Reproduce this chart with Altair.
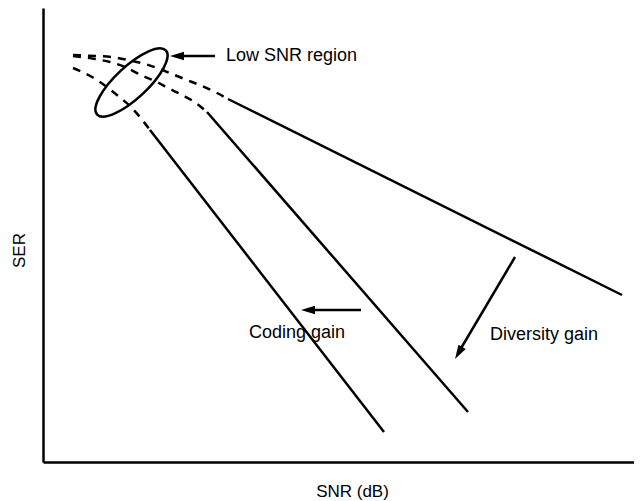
import altair as alt
import pandas as pd

FONT = "Liberation Sans"

# ---- curve values (SNR units on x, SER units on y) ----
# Curve A: no diversity (shallow slope)
a_dash_x = [30, 52, 68, 85, 102, 117, 129, 144, 159, 174, 185]
a_dash_y = [407, 406, 405, 402, 398, 393, 388, 382, 376, 369, 363]
a_solid_x = [185, 579]
a_solid_y = [363, 167]

# Curve B: diversity gain
b_dash_x = [30, 52, 67, 82, 98, 114, 125, 139, 153, 164]
b_dash_y = [406, 403, 400, 395, 387, 380, 374, 367, 359, 350]
b_solid_x = [164, 425]
b_solid_y = [350, 50]

# Curve C: diversity + coding gain
c_dash_x = [30, 54, 74, 89, 107]
c_dash_y = [394, 382, 367, 354, 332]
c_solid_x = [107, 341]
c_solid_y = [332, 30]

# Low SNR ellipse centre
ellipse_x = [88.5]
ellipse_y = [379.5]

# Arrows: shaft start, shaft end, tip, head angle
arrow_names = ["low", "coding", "diversity"]
arrow_x1 = [172, 318, 472]
arrow_y1 = [406, 152, 205]
arrow_x2 = [135, 265, 417]
arrow_y2 = [406, 152, 112]
tip_x = [127, 258, 412]
tip_y = [406, 152, 103]
tip_angle = [270, 270, 210.5]

# Annotation labels
label_text = ["Low SNR region", "Coding gain", "Diversity gain"]
label_x = [183, 206, 447]
label_y = [406, 129, 127]
label_size = [18, 18, 18]


def series(name, xs, ys):
    return pd.DataFrame({"x": xs, "y": ys, "curve": name, "order": range(len(xs))})


dash_df = pd.concat([series("A", a_dash_x, a_dash_y),
                     series("B", b_dash_x, b_dash_y),
                     series("C", c_dash_x, c_dash_y)])
solid_df = pd.concat([series("A", a_solid_x, a_solid_y),
                      series("B", b_solid_x, b_solid_y),
                      series("C", c_solid_x, c_solid_y)])
ellipse_df = pd.DataFrame({"x": ellipse_x, "y": ellipse_y})
shaft_df = pd.DataFrame({"name": arrow_names, "x": arrow_x1, "y": arrow_y1,
                         "x2": arrow_x2, "y2": arrow_y2})
tip_df = pd.DataFrame({"name": arrow_names, "x": tip_x, "y": tip_y, "angle": tip_angle})
label_df = pd.DataFrame({"text": label_text, "x": label_x, "y": label_y, "size": label_size})

xscale = alt.Scale(domain=[0, 591], nice=False, zero=False)
yscale = alt.Scale(domain=[0, 454], nice=False, zero=False)

X = alt.X("x:Q", scale=xscale,
          axis=alt.Axis(title="SNR (dB)", titleX=309, titleY=29,
                        titleBaseline="middle", titleAlign="center"))
Y = alt.Y("y:Q", scale=yscale,
          axis=alt.Axis(title="SER", titleX=-24, titleY=242, titleAngle=270,
                        titleBaseline="middle", titleAlign="center"))

dashed = alt.Chart(dash_df).mark_line(
    color="black", strokeWidth=2.5, strokeDash=[8, 7], interpolate="monotone"
).encode(x=X, y=Y, detail="curve:N", order="order:Q")

solid = alt.Chart(solid_df).mark_line(
    color="black", strokeWidth=2.5
).encode(x=X, y=Y, detail="curve:N", order="order:Q")

k = 16 / 47
kk = 0.5523 * k
ellipse_path = (f"M 1 0 C 1 {kk:.4f} 0.5523 {k:.4f} 0 {k:.4f} "
                f"C -0.5523 {k:.4f} -1 {kk:.4f} -1 0 "
                f"C -1 -{kk:.4f} -0.5523 -{k:.4f} 0 -{k:.4f} "
                f"C 0.5523 -{k:.4f} 1 -{kk:.4f} 1 0 Z")

ellipse = alt.Chart(ellipse_df).mark_point(
    shape=ellipse_path, size=94 * 94, angle=317, filled=False,
    stroke="black", strokeWidth=2.5, opacity=1
).encode(x=X, y=Y)

shafts = alt.Chart(shaft_df).mark_rule(color="black", strokeWidth=2.5).encode(
    x=X, y=Y, x2="x2:Q", y2="y2:Q")

arrow_path = "M 0 0 L 0.3 1 L -0.3 1 Z"
tips = alt.Chart(tip_df).mark_point(
    shape=arrow_path, size=28 * 28, filled=True, color="black", opacity=1, strokeWidth=0
).encode(x=X, y=Y, angle=alt.Angle("angle:Q", scale=None))

labels = alt.Chart(label_df).mark_text(
    align="left", baseline="middle", font=FONT, color="black"
).encode(x=X, y=Y, text="text:N", size=alt.Size("size:Q", scale=None, legend=None))

chart = alt.layer(dashed, solid, ellipse, shafts, tips, labels).properties(
    width=591, height=454,
    autosize=alt.AutoSizeParams(type="none"),
    padding={"left": 35, "top": 0, "right": 0, "bottom": 39},
).configure_view(stroke=None).configure_axis(
    grid=False, ticks=False, labels=False,
    domainColor="black", domainWidth=2.5,
    titleFont=FONT, titleFontSize=17, titleFontWeight="normal", titleColor="black",
)

chart.save("out.html", embed_options={"renderer": "svg", "actions": False})
